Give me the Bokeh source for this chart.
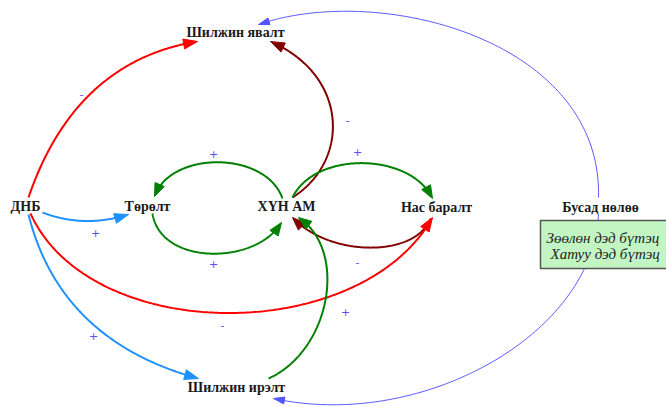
import numpy as np
from bokeh.plotting import figure
from bokeh.models import Range1d
from bokeh.core.properties import value
from bokeh.embed import file_html
from bokeh.resources import INLINE

# ---- data ----
nodes = ["Шилжин явалт", "ДНБ", "Төрөлт", "ХҮН АМ", "Нас баралт", "Бусад нөлөө", "Шилжин ирэлт"]
node_x = [235, 25, 147, 286, 436, 600, 236]
node_y = [32, 206, 206, 206, 207, 207, 387]

link_from = ["ДНБ", "ХҮН АМ", "ХҮН АМ", "Төрөлт", "ХҮН АМ", "Нас баралт",
             "ДНБ", "ДНБ", "ДНБ", "Шилжин ирэлт", "Бусад нөлөө", "Бусад нөлөө"]
link_to = ["Шилжин явалт", "Шилжин явалт", "Төрөлт", "ХҮН АМ", "Нас баралт", "ХҮН АМ",
           "Нас баралт", "Төрөлт", "Шилжин ирэлт", "ХҮН АМ", "Шилжин явалт", "Шилжин ирэлт"]
link_sign = ["-", "-", "+", "+", "+", "-", "-", "+", "+", "+", "", ""]

box_lines = ["Зөөлөн дэд бүтэц", "Хатуу дэд бүтэц"]

# ---- layout (pixel geometry of each link: start, ctrl1, ctrl2, tip, sign position) ----
link_geom = [
    [(28, 197), (59, 106), (116, 54), (197, 41), (81, 93)],
    [(292, 197), (350, 160), (348, 75), (270, 41), (347, 119)],
    [(282, 198), (265, 150), (170, 150), (154, 196), (213, 153)],
    [(152, 213), (160, 265), (255, 265), (281, 222), (213, 263)],
    [(292, 197), (315, 150), (410, 152), (432, 198), (357, 151)],
    [(430, 218), (415, 257), (330, 257), (292, 217), (357, 261)],
    [(30, 213), (90, 345), (360, 345), (432, 217), (222, 324)],
    [(42, 212), (71, 223), (99, 223), (128, 214), (95, 232)],
    [(28, 214), (49, 298), (106, 353), (198, 378), (93, 335)],
    [(268, 378), (330, 350), (348, 250), (298, 217), (345, 311)],
    [(598, 197), (602, 40), (380, -18), (258, 24), None],
    [(598, 214), (592, 335), (420, 430), (273, 398), None],
]
link_style = [
    ("#ff0000", 2.0, 14, 5.0), ("#800000", 2.0, 14, 5.0), ("#008000", 2.0, 13, 5.0),
    ("#008000", 2.0, 13, 5.0), ("#008000", 2.0, 13, 5.0), ("#800000", 2.0, 13, 5.0),
    ("#ff0000", 2.0, 14, 5.0), ("#1e90ff", 2.0, 14, 5.0), ("#1e90ff", 2.0, 14, 5.0),
    ("#008000", 2.0, 13, 5.0), ("#5555ff", 1.0, 11, 3.5), ("#5555ff", 1.0, 11, 3.5),
]

p = figure(width=666, height=407, output_backend="svg", toolbar_location=None,
           x_range=Range1d(0, 666), y_range=Range1d(407, 0), min_border=0)
p.axis.visible = False
p.grid.visible = False
p.outline_line_color = None
p.background_fill_color = "white"
p.border_fill_color = "white"

def bez(g, t):
    p0, c1, c2, p3 = [np.array(v, dtype=float) for v in g[:4]]
    t = t[:, None]
    return ((1 - t) ** 3) * p0 + 3 * t * (1 - t) ** 2 * c1 + 3 * t ** 2 * (1 - t) * c2 + t ** 3 * p3

head_xs, head_ys, head_cols = [], [], []
sign_x, sign_y, sign_t = [], [], []
for g, (col, lw, L, w), s in zip(link_geom, link_style, link_sign):
    stop = bez(g, np.linspace(0, 1, 200))
    tip = stop[-1]
    prev = bez(g, np.array([0.96]))[0]
    d = tip - prev
    d = d / np.hypot(*d)
    n = np.array([-d[1], d[0]])
    base = tip - L * d
    keep = np.hypot(stop[:, 0] - tip[0], stop[:, 1] - tip[1]) > L * 0.6
    line = stop[keep]
    p.line(line[:, 0], line[:, 1], line_color=col, line_width=lw)
    head_xs.append([tip[0], base[0] + w * n[0], base[0] - w * n[0]])
    head_ys.append([tip[1], base[1] + w * n[1], base[1] - w * n[1]])
    head_cols.append(col)
    if g[4] is not None and s:
        sign_x.append(g[4][0]); sign_y.append(g[4][1]); sign_t.append(s)

p.patches(head_xs, head_ys, fill_color=head_cols, line_color=head_cols, line_width=1)

# box
p.quad(left=[540], right=[720], top=[220], bottom=[268], fill_color="#c3f5c3",
       line_color="#555555", line_width=1.5)
p.text(x=[546, 550], y=[237, 253], text=box_lines, text_align="left", text_baseline="middle",
       text_font=value("Liberation Serif"), text_font_size="15px", text_font_style="italic",
       text_color="#222222")

# signs
p.text(x=sign_x, y=sign_y, text=sign_t, text_align="center", text_baseline="middle",
       text_font=value("DejaVu Sans"), text_font_size="11px", text_color="#5a4cff")

# nodes
p.text(x=node_x, y=node_y, text=nodes, text_align="center", text_baseline="middle",
       text_font=value("Liberation Serif"), text_font_size="14px", text_font_style="bold",
       text_color="#1a1a1a")

open("out.html", "w").write(file_html(p, INLINE))
